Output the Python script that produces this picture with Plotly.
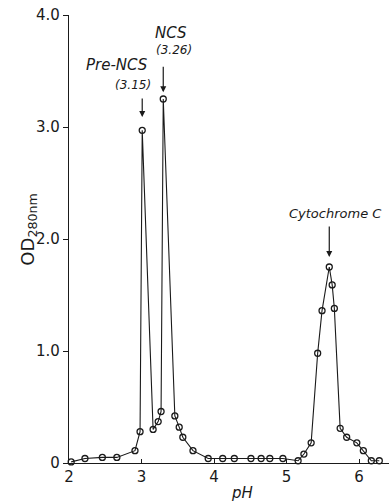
import plotly.graph_objects as go

# Data (pH vs OD280nm)
ph = [2.03, 2.22, 2.46, 2.66, 2.91, 2.98, 3.01, 3.16, 3.23, 3.27, 3.30,
      3.46, 3.52, 3.57, 3.71, 3.92, 4.12, 4.28, 4.51, 4.65, 4.77, 4.95,
      5.16, 5.24, 5.34, 5.43, 5.49, 5.59, 5.63, 5.66, 5.74, 5.83, 5.97,
      6.06, 6.17, 6.28]
od = [0.01, 0.04, 0.05, 0.05, 0.11, 0.28, 2.97, 0.30, 0.37, 0.46, 3.25,
      0.42, 0.32, 0.23, 0.11, 0.04, 0.04, 0.04, 0.04, 0.04, 0.04, 0.04,
      0.02, 0.08, 0.18, 0.98, 1.36, 1.75, 1.59, 1.38, 0.31, 0.23, 0.18,
      0.11, 0.02, 0.02]

x_ticks = [2, 3, 4, 5, 6]
x_ticklabels = ["2", "3", "4", "5", "6"]
y_ticks = [0, 1, 2, 3, 4]
y_ticklabels = ["0", "1.0", "2.0", "3.0", "4.0"]

# peaks (index into series) with labels
peak_pre = 6
peak_ncs = 10
peak_cyt = 27

ink = "#1a1a1a"
font_main = "DejaVu Sans"

fig = go.Figure()
fig.add_trace(go.Scatter(
    x=ph, y=od, mode="lines+markers",
    line=dict(color=ink, width=1.1),
    marker=dict(symbol="circle-open", size=6, color=ink, line=dict(width=1.3)),
    cliponaxis=False, showlegend=False,
))

def arrow(i, dy, ay):
    fig.add_annotation(x=ph[i], y=od[i] + dy, xref="x", yref="y",
                       text="", showarrow=True, ax=0, ay=ay,
                       arrowhead=2, arrowsize=1, arrowwidth=1.2,
                       arrowcolor=ink)

arrow(peak_pre, 0.12, -20)
arrow(peak_ncs, 0.06, -27)
arrow(peak_cyt, 0.09, -32)

def label(text, x, y, size=13, italic=True):
    fig.add_annotation(x=x, y=y, xref="x", yref="y", text=text,
                       showarrow=False, xanchor="center", yanchor="middle",
                       font=dict(family=font_main, size=size, color=ink,
                                 style="italic" if italic else "normal"))

label("Pre-NCS", 2.66, 3.55, 15)
label("(3.15)", 2.88, 3.375, 12)
label("NCS", 3.41, 3.84, 15)
label("(3.26)", 3.45, 3.69, 12)
label("Cytochrome C", 5.67, 2.23, 13)

# y-axis title
fig.add_annotation(x=-0.17, y=0.52, xref="paper", yref="paper",
                   text="OD<sub>280nm</sub>", textangle=-90, showarrow=False,
                   font=dict(family=font_main, size=18, color=ink))

# x-axis title
fig.add_annotation(x=4.38, y=-0.068, xref="x", yref="paper",
                   text="<i>pH</i>", showarrow=False, yanchor="middle",
                   font=dict(family=font_main, size=15, color=ink))

fig.update_layout(
    width=389, height=504,
    margin=dict(l=69, r=0, t=15, b=41),
    paper_bgcolor="white", plot_bgcolor="white",
    font=dict(family=font_main, color=ink),
    xaxis=dict(range=[2, 2 + 320 / 72.5], tickvals=x_ticks, ticktext=x_ticklabels,
               showgrid=False, zeroline=False, showline=True, linecolor=ink,
               linewidth=1.3, ticks="inside", ticklen=4, tickcolor=ink,
               tickfont=dict(size=15, color=ink)),
    yaxis=dict(range=[0, 4], tickvals=y_ticks, ticktext=y_ticklabels,
               showgrid=False, zeroline=False, showline=True, linecolor=ink,
               linewidth=1.3, ticks="outside", ticklen=5, tickcolor=ink,
               tickfont=dict(size=15, color=ink)),
)

fig.write_html("out.html")
